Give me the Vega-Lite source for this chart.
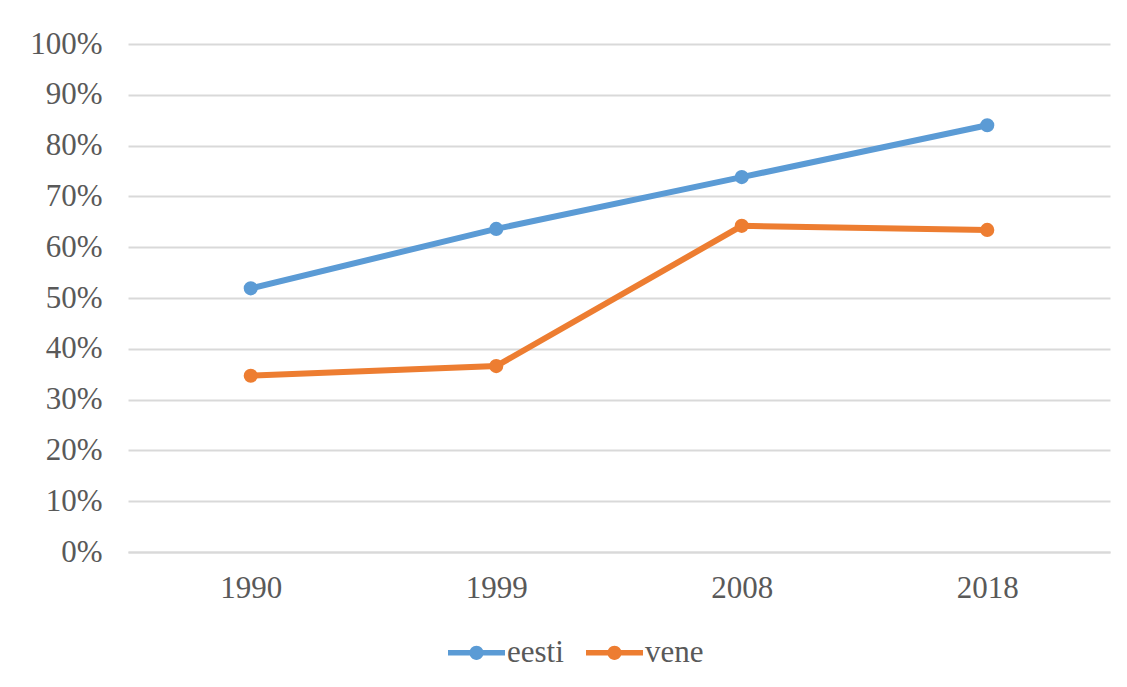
{
  "$schema": "https://vega.github.io/schema/vega-lite/v6.json",
  "width": 982,
  "height": 508,
  "autosize": "none",
  "padding": {"left": 128, "top": 44, "right": 17, "bottom": 135},
  "background": "white",
  "config": {"view": {"stroke": null}, "font": "Liberation Serif"},
  "data": {"values": [
    {"year": "1990", "group": "eesti", "value": 0.519},
    {"year": "1999", "group": "eesti", "value": 0.636},
    {"year": "2008", "group": "eesti", "value": 0.738},
    {"year": "2018", "group": "eesti", "value": 0.840},
    {"year": "1990", "group": "vene", "value": 0.347},
    {"year": "1999", "group": "vene", "value": 0.366},
    {"year": "2008", "group": "vene", "value": 0.642},
    {"year": "2018", "group": "vene", "value": 0.634}
  ]},
  "encoding": {
    "x": {"field": "year", "type": "ordinal", "scale": {"type": "point", "padding": 0.5},
      "axis": {"title": null, "labelAngle": 0, "ticks": false, "grid": false, "domain": true, "domainColor": "#d9d9d9", "domainWidth": 2, "labelFontSize": 31, "labelColor": "#595959", "labelPadding": 21}},
    "y": {"field": "value", "type": "quantitative", "scale": {"domain": [0, 1]},
      "axis": {"title": null, "values": [0, 0.1, 0.2, 0.3, 0.4, 0.5, 0.6, 0.7, 0.8, 0.9, 1], "format": ".0%", "grid": true, "gridColor": "#d9d9d9", "gridWidth": 2, "domain": false, "ticks": false, "labelFontSize": 31, "labelColor": "#595959", "labelPadding": 26}},
    "color": {"field": "group", "type": "nominal", "scale": {"domain": ["eesti", "vene"], "range": ["#5B9BD5", "#ED7D31"]},
      "legend": {"title": null, "orient": "none", "direction": "horizontal", "legendX": 320, "legendY": 580,
          "symbolType": "M -1 -0.1 L 1 -0.1 L 1 0.1 L -1 0.1 Z M -0.25 0 A 0.25 0.25 0 1 1 0.25 0 A 0.25 0.25 0 1 1 -0.25 0 Z",
          "symbolSize": 3249, "symbolStrokeWidth": 0, "symbolOpacity": 1, "labelFontSize": 31, "labelColor": "#595959", "labelOffset": 2, "columnPadding": 22}}
  },
  "layer": [
    {"mark": {"type": "line", "strokeWidth": 6}},
    {"mark": {"type": "point", "filled": true, "size": 200, "opacity": 1}}
  ]
}
